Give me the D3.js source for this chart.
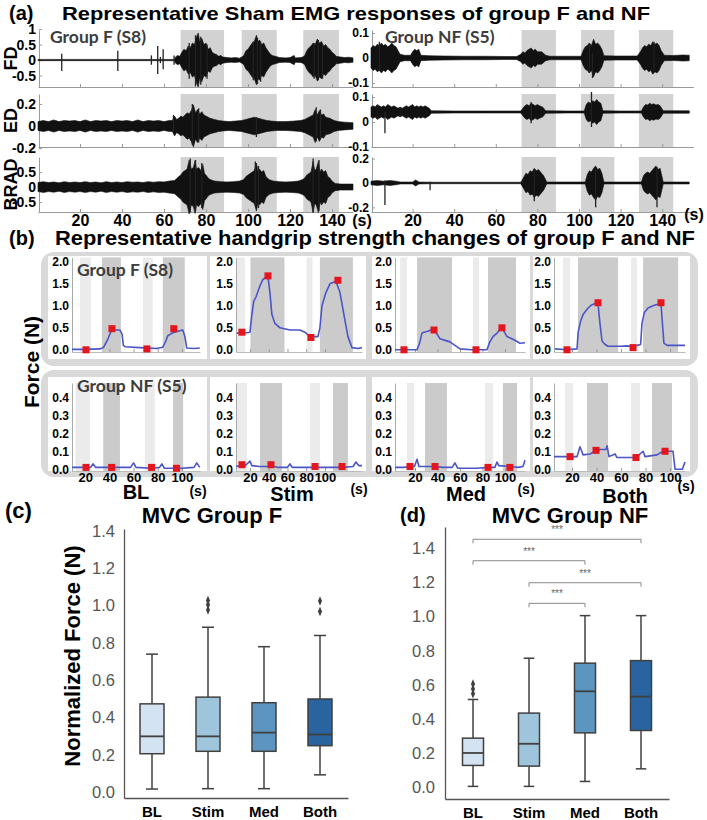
<!DOCTYPE html>
<html><head><meta charset="utf-8">
<script src="https://cdn.jsdelivr.net/npm/d3@7"></script>
<style>body{margin:0;background:#fff}svg{display:block}</style>
</head><body>
<svg id="c" width="707" height="820"></svg>
<script>
// ======================= DATA =======================
// ---- Panel (a): EMG amplitude envelopes [time s, half-amplitude] ----
const emgTimeTicks = [20,40,60,80,100,120,140];
const emgMuscles = ["FD","ED","BRAD"];
const emgGroupLabels = ["Group F (S8)","Group NF (S5)"];
const emgBandsF = [[67.9,88.6],[97,113.7],[126.3,143.3]];
const emgBandsNF = [[72.4,88.9],[101,117],[128.8,145.3]];
const emgTicksF = [[1,0.5,0,-0.5],[0.2,0,-0.2],[0.5,0,-0.5]];
const emgTicksNF = [[0.1,0,-0.1],[0.1,0,-0.1],[0.2,0,-0.2]];
const emgCentersNF = [0,0.04,0];

const emgF_FD = [[0,0.02],[65,0.02],[65.5,0.1],[66.5,0.15],[67.5,0.12],[68.5,0.25],[69.5,0.35],[70.5,0.3],[71.5,0.45],[72.5,0.4],[73.5,0.55],[74.5,0.5],[75.5,0.75],[76.3,0.87],[77,0.6],[78,0.7],[79,0.5],[80,0.55],[81,0.35],[82,0.4],[83,0.25],[84,0.2],[85,0.18],[86,0.12],[87,0.15],[88,0.1],[90,0.08],[92,0.07],[94,0.08],[96,0.06],[97,0.1],[98,0.15],[99,0.3],[100,0.35],[101,0.45],[102,0.55],[103,0.6],[104,0.8],[104.8,0.6],[105.5,0.65],[106.5,0.5],[107.5,0.55],[108.5,0.4],[109.5,0.3],[110.5,0.2],[111.5,0.15],[113,0.12],[115,0.08],[118,0.07],[120,0.08],[122,0.15],[122.5,0.07],[125,0.08],[126,0.1],[127,0.15],[128,0.3],[129,0.4],[130,0.45],[131,0.55],[132,0.5],[133,0.68],[134,0.55],[135,0.6],[136,0.45],[137,0.5],[138,0.4],[139,0.35],[140,0.25],[141,0.2],[142,0.12],[144,0.1],[146,0.08],[148,0.09],[150,0.07]];
const emgF_FD_spikes = [[11.3,-0.35,0.2],[38,-0.35,0.3],[54,-0.15,0.15],[57,-0.45,0.45],[58.3,-0.1,0.1],[59.6,-0.3,0.35],[64.8,-0.15,0.15],[72,-0.6,0.55],[75,-0.85,0.8],[77.5,-0.8,0.75],[80.5,-0.6,0.5],[102.5,-0.65,0.6],[104.5,-0.78,0.72],[106,-0.7,0.6],[131.5,-0.6,0.55],[133.5,-0.65,0.65],[135.5,-0.6,0.5]];
const emgF_ED = [[0,0.04],[2.5,0.05],[5,0.04],[7.5,0.055],[10,0.04],[12.5,0.05],[15,0.045],[17.5,0.05],[20,0.04],[22.5,0.055],[25,0.04],[27.5,0.05],[30,0.045],[32.5,0.05],[35,0.04],[37.5,0.05],[40,0.045],[42.5,0.05],[45,0.04],[47.5,0.055],[50,0.04],[52.5,0.05],[55,0.045],[57.5,0.05],[60,0.04],[62.5,0.05],[64,0.05],[65,0.09],[66,0.06],[67,0.07],[68,0.09],[69,0.08],[70,0.1],[71,0.12],[72,0.11],[73,0.14],[74,0.19],[75,0.12],[76,0.15],[77,0.11],[78,0.13],[79,0.1],[80,0.09],[81,0.08],[82,0.07],[84,0.06],[86,0.05],[88,0.045],[91,0.04],[94,0.045],[97,0.05],[99,0.06],[101,0.07],[103,0.08],[105,0.07],[107,0.06],[109,0.05],[111,0.045],[114,0.04],[118,0.04],[122,0.045],[125,0.05],[127,0.06],[129,0.08],[131,0.1],[132,0.15],[133,0.1],[134,0.14],[135,0.1],[136,0.11],[137,0.08],[139,0.07],[141,0.05],[143,0.04],[146,0.035],[150,0.03]];
const emgF_ED_spikes = [[64.5,-0.05,0.1],[73.5,-0.17,0.2],[76.5,-0.15,0.16],[104,-0.1,0.08],[132.5,-0.14,0.17],[134.5,-0.12,0.15]];
const emgF_BRAD = [[0,0.15],[2.5,0.18],[5,0.15],[7.5,0.17],[10,0.14],[12.5,0.18],[15,0.15],[17.5,0.17],[20,0.15],[22.5,0.18],[25,0.15],[27.5,0.17],[30,0.14],[32.5,0.18],[35,0.15],[37.5,0.17],[40,0.15],[42.5,0.18],[45,0.16],[47.5,0.17],[50,0.15],[52.5,0.18],[55,0.16],[57.5,0.18],[60,0.17],[62.5,0.2],[65,0.22],[66,0.28],[67,0.35],[68,0.4],[69,0.5],[70,0.55],[71,0.6],[72,0.9],[73,0.6],[74,0.65],[74.8,0.88],[75.5,0.6],[76.5,0.65],[77.5,0.55],[78.5,0.75],[79.3,0.45],[80,0.4],[81,0.3],[82,0.25],[84,0.2],[87,0.18],[90,0.17],[93,0.18],[96,0.2],[98,0.25],[99,0.35],[100,0.4],[101,0.45],[102,0.5],[103,0.55],[104,0.8],[104.8,0.5],[105.5,0.6],[106.5,0.5],[107.5,0.55],[108.5,0.35],[110,0.25],[112,0.2],[115,0.18],[118,0.17],[121,0.18],[124,0.2],[126,0.25],[127,0.3],[128,0.4],[129,0.45],[130,0.5],[131,0.85],[131.8,0.55],[132.5,0.6],[133.5,0.85],[134.3,0.5],[135,0.6],[136,0.5],[137,0.55],[138,0.35],[139,0.3],[140,0.2],[141.5,0.12],[144,0.1],[147,0.1],[150,0.1]];
const emgF_BRAD_spikes = [[72.5,-0.85,0.95],[75,-0.8,0.9],[78,-0.7,0.8],[103.5,-0.6,0.85],[105,-0.7,0.7],[131,-0.85,0.95],[133.8,-0.8,0.9]];

const emgNF_FD = [[0,0.04],[1,0.05],[2,0.045],[3,0.055],[4,0.05],[5,0.06],[6,0.05],[7,0.055],[8,0.045],[9,0.05],[10,0.06],[11,0.05],[12,0.045],[13,0.03],[14,0.015],[16,0.011],[19,0.011],[20,0.025],[21,0.035],[22,0.03],[23,0.035],[24,0.011],[28,0.009],[35,0.008],[45,0.007],[55,0.007],[65,0.006],[70,0.006],[72,0.015],[73,0.025],[74,0.02],[75,0.03],[76,0.035],[77,0.04],[78,0.03],[79,0.035],[80,0.025],[82,0.025],[84,0.011],[86,0.007],[95,0.007],[101,0.007],[102,0.03],[103,0.045],[104,0.05],[105,0.06],[106,0.05],[107,0.075],[108,0.055],[109,0.06],[110,0.05],[111,0.035],[112,0.009],[118,0.008],[128,0.008],[129.5,0.025],[130.5,0.04],[131.5,0.05],[132.5,0.045],[133.5,0.055],[134.5,0.05],[135.5,0.065],[136.5,0.055],[137.5,0.06],[138.5,0.05],[139.5,0.03],[141,0.011],[145,0.01],[150,0.012],[153,0.011]];
const emgNF_FD_spikes = [[106.5,-0.08,0.02],[105,-0.06,0.06],[136,-0.05,0.065],[4,-0.05,0.065]];
const emgNF_ED = [[0,0.02],[1,0.025],[2,0.02],[3,0.03],[4,0.025],[5,0.02],[6,0.025],[7,0.02],[8,0.03],[9,0.025],[10,0.02],[11,0.025],[12,0.02],[13,0.015],[14,0.02],[15,0.015],[16,0.02],[17,0.025],[18,0.02],[19,0.025],[20,0.03],[21,0.02],[22,0.025],[23,0.02],[24,0.025],[25,0.02],[26,0.025],[27,0.02],[28,0.015],[29,0.005],[40,0.004],[55,0.004],[72,0.004],[73,0.015],[74,0.025],[75,0.03],[76,0.025],[77,0.035],[78,0.03],[79,0.025],[80,0.03],[81,0.025],[82.5,0.02],[84,0.005],[95,0.004],[102.5,0.004],[103.5,0.03],[104.5,0.04],[105.5,0.035],[106.5,0.045],[107.5,0.04],[108.5,0.05],[109.5,0.04],[110.5,0.035],[111.5,0.005],[120,0.004],[130,0.004],[131,0.02],[132,0.03],[133,0.028],[134,0.035],[135,0.03],[136,0.033],[137,0.028],[138,0.03],[139,0.025],[140.5,0.005],[153,0.005]];
const emgNF_ED_spikes = [[6.7,-0.045,0.04],[106,-0.02,0.12],[77,-0.005,0.08]];
const emgNF_BRAD = [[0,0.015],[3,0.02],[6,0.015],[9,0.02],[12,0.015],[14,0.008],[20,0.008],[21.5,0.025],[23,0.008],[30,0.006],[50,0.006],[72,0.006],[73.5,0.05],[74.5,0.08],[75.5,0.07],[76.5,0.1],[77.5,0.09],[78.5,0.12],[79.5,0.1],[80.5,0.11],[81.5,0.09],[83,0.06],[84.5,0.008],[103,0.008],[104,0.07],[105,0.1],[106,0.09],[107,0.12],[108,0.14],[109,0.11],[110,0.12],[111,0.08],[112,0.008],[130,0.008],[131,0.06],[132,0.08],[133,0.09],[134,0.08],[135,0.1],[136,0.12],[137,0.14],[138,0.11],[139,0.12],[140.5,0.008],[153,0.008]];
const emgNF_BRAD_spikes = [[6.7,-0.18,0.02],[28.4,-0.06,0.01],[108,-0.2,0.12],[137.5,-0.2,0.13],[78.5,-0.15,0.1]];

// ---- Panel (b): handgrip force traces [time s, force N] ----
const forceConditions = ["BL","Stim","Med","Both"];
const forceGroupLabels = ["Group F (S8)","Group NF (S5)"];
const forceYTicksF = [0,0.5,1,1.5,2];
const forceYTicksNF = [0,0.1,0.2,0.3,0.4];
const forceTimeTicks = [20,40,60,80,100];
const forceTimeDomains = [[9,115],[5.1,139.5],[2.2,117.8],[5.3,112.2]];
const forceBandsF = [
  [[15.6,24.7],[33.8,49.5],[67.7,75.9],[84.2,102.4]],
  [[6.2,14.7],[20.5,56.8],[80.3,86.7],[94.6,129.8]],
  [[6.7,12.9],[21.8,52.9],[71.6,76.9],[84.9,109.8]],
  [[12.7,18.4],[24.9,57.6],[68.2,73.1],[78,106.6]]
];
const forceBandsNF = [
  [[12,23.9],[34.9,48.7],[69.3,77.6],[92.7,101]],
  [[5.1,16.8],[30.7,54.2],[84,94.7],[108.5,124.5]],
  [[12.9,19.1],[28.9,48.4],[82.2,89.3],[98.2,110.7]],
  [[14.3,20.8],[32.2,49.4],[68.2,75.5],[85.3,101.6]]
];
const forceF_BL = [[9,0.01],[20,0.01],[32,0.02],[35,0.05],[38.8,0.25],[41,0.4],[43,0.45],[48.7,0.45],[50.5,0.35],[51.5,0.1],[53,0.07],[65,0.05],[79,0.03],[84.2,0.06],[86.7,0.2],[88.3,0.32],[92,0.38],[96.6,0.42],[100.7,0.45],[102.5,0.3],[104,0.04],[110,0.03],[114.8,0.04]];
const forceF_Stim = [[6.1,0.38],[14.6,0.38],[20,0.4],[22,0.8],[24,1.1],[26.4,1.2],[30.6,1.45],[33.8,1.6],[37,1.65],[39.2,1.66],[41.3,1.3],[43.4,0.8],[46.6,0.6],[52,0.5],[62.6,0.45],[73.3,0.45],[78.6,0.4],[84,0.3],[92.5,0.3],[94.6,0.5],[96.8,1.0],[101,1.3],[105.3,1.5],[111.7,1.56],[116,1.3],[120.2,0.8],[124.5,0.3],[128.8,0.05],[135.2,0.03],[139.4,0.05]];
const forceF_Med = [[2.2,0.0],[21.8,0.0],[24,0.15],[26.2,0.38],[28,0.4],[31.5,0.42],[34,0.45],[36.9,0.5],[39,0.38],[42.2,0.25],[46,0.22],[51.1,0.18],[55.5,0.1],[60,0.02],[70,0.0],[84,0.0],[86,0.15],[89.3,0.3],[93,0.38],[97.3,0.52],[99.5,0.4],[101.8,0.3],[106.2,0.25],[110,0.2],[113.3,0.15],[117.8,0.16]];
const forceF_Both = [[6.1,0.02],[15.9,0.0],[24.1,0.02],[25,0.4],[27,0.65],[29,0.8],[33.1,0.95],[36,1.02],[38.8,1.05],[41.2,1.05],[42.8,0.6],[44.5,0.2],[47,0.12],[49.4,0.08],[60,0.08],[65,0.09],[67.3,0.08],[73,0.1],[76,0.12],[77.1,0.6],[79,0.85],[82,0.95],[87.7,1.02],[92.6,1.05],[93.5,0.7],[95,0.15],[97.5,0.1],[104,0.1],[112.2,0.1]];
const forceF_Peaks = [
  [[20.6,0.0],[42.1,0.48],[71,0.02],[93.3,0.48]],
  [[11.4,0.40],[39.2,1.68],[85,0.28],[113.8,1.58]],
  [[10.2,0.0],[36.9,0.45],[74.2,0.0],[97.3,0.5]],
  [[15.9,0.0],[41.2,1.07],[69.8,0.05],[92.6,1.07]]
];
const forceNF_BL = [[9,0.01],[20,0.01],[24.5,0.01],[26.4,0.03],[28.5,0.01],[40,0.01],[50,0.01],[57.5,0.01],[60,0.035],[62,0.01],[75,0.005],[81.5,0.01],[83.4,0.03],[85.5,0.005],[100,0.005],[110,0.01],[112.3,0.035],[114.8,0.01]];
const forceNF_Stim = [[5.1,0.015],[9,0.02],[11.5,0.025],[14,0.02],[16,0.025],[20,0.045],[22,0.02],[30,0.015],[40,0.015],[42.4,0.02],[50,0.01],[60,0.01],[62.7,0.03],[65,0.01],[80,0.01],[89.4,0.01],[100,0.01],[110,0.01],[118.2,0.01],[130,0.015],[133,0.04],[136,0.02],[139.5,0.02]];
const forceNF_Med = [[2.2,0.01],[10,0.01],[15.5,0.015],[19.5,0.015],[21.8,0.055],[23.5,0.015],[37.8,0.015],[45,0.01],[53,0.01],[55.5,0.035],[58,0.005],[75,0.005],[84.9,0.01],[91,0.01],[92.9,0.04],[94.5,0.02],[104.4,0.015],[112,0.01],[116,0.015],[117.8,0.05]];
const forceNF_Both = [[5.3,0.07],[7.7,0.07],[18.4,0.07],[24.1,0.07],[26.5,0.125],[29,0.08],[34.7,0.085],[38.8,0.1],[42.9,0.11],[47.7,0.11],[48.6,0.13],[50.2,0.07],[55.1,0.085],[56.7,0.065],[67.3,0.065],[72.2,0.065],[78,0.1],[79.6,0.07],[89.4,0.08],[94.3,0.1],[102.4,0.1],[104.1,0.0],[110,0.0],[112.2,0.04]];
const forceNF_Peaks = [
  [[20.6,0.01],[41.8,0.01],[74.9,0.01],[95.5,0.005]],
  [[11.5,0.025],[42.4,0.025],[89.4,0.015],[118.2,0.015]],
  [[15.5,0.015],[37.8,0.015],[84.9,0.01],[104.4,0.01]],
  [[18.4,0.07],[39.6,0.105],[72.2,0.065],[95.9,0.1]]
];

// ---- Panels (c),(d): MVC box plot statistics ----
const mvcCategories = ["BL","Stim","Med","Both"];
const mvcYTicks = [0,0.2,0.4,0.6,0.8,1.0,1.2,1.4];
const mvcF_low  = [0.018,0.02,0.02,0.094];
const mvcF_q1   = [0.207,0.22,0.22,0.25];
const mvcF_med  = [0.30,0.30,0.32,0.31];
const mvcF_q3   = [0.474,0.51,0.48,0.50];
const mvcF_high = [0.74,0.884,0.78,0.84];
const mvcF_outliers = [["Stim",0.976],["Stim",1.004],["Stim",1.027],["Both",0.968],["Both",1.025]];
const mvcNF_low  = [0.004,0.004,0.033,0.107];
const mvcNF_q1   = [0.127,0.123,0.318,0.332];
const mvcNF_med  = [0.20,0.254,0.562,0.531];
const mvcNF_q3   = [0.287,0.434,0.727,0.742];
const mvcNF_high = [0.514,0.756,1.006,1.006];
const mvcNF_outliers = [["BL",0.547],["BL",0.576],["BL",0.605]];
const mvcNF_sig = [["BL","Both",1.454],["BL","Med",1.328],["Stim","Both",1.199],["Stim","Med",1.078]];
const sigLabel = "***";

// ======================= DRAWING =======================
const svg = d3.select("#c");
const AR = "'Liberation Sans', Arial, Helvetica, sans-serif";
const CAL = "Lato, 'Open Sans', sans-serif";
function label(x, y, s, o = {}) {
  const t = svg.append("text").attr("x", x).attr("y", y).text(s)
    .attr("font-family", o.ff || AR).attr("font-size", o.fs || 14)
    .attr("font-weight", o.fw || "bold").attr("fill", o.fill || "#000")
    .attr("text-anchor", o.anchor || "start");
  if (o.rot) t.attr("transform", `rotate(${o.rot},${x},${y})`);
  if (o.len) t.attr("textLength", o.len).attr("lengthAdjust", "spacingAndGlyphs");
  return t;
}

// ---------- Panel (a) ----------
label(9, 20, "(a)", {fs: 20});
label(62, 20, "Representative Sham EMG responses of group F and NF", {fs: 19, len: 588});
const emgRows = [{top: 30, bot: 87}, {top: 94, bot: 147}, {top: 157, bot: 212}];
const emgSides = [
  {x: [38, 353], dom: [0, 150], bands: emgBandsF, ticks: emgTicksF, centers: [0,0,0],
   yd: [[-0.87, 0.97], [-0.19, 0.29], [-0.83, 1.0]],
   env: [emgF_FD, emgF_ED, emgF_BRAD], spk: [emgF_FD_spikes, emgF_ED_spikes, emgF_BRAD_spikes],
   tfs: 14, group: emgGroupLabels[0], gx: 50, sx: 362, sy: 226},
  {x: [371, 693.4], dom: [0, 155], bands: emgBandsNF, ticks: emgTicksNF, centers: emgCentersNF,
   yd: [[-0.116, 0.112], [-0.1, 0.112], [-0.238, 0.213]],
   env: [emgNF_FD, emgNF_ED, emgNF_BRAD], spk: [emgNF_FD_spikes, emgNF_ED_spikes, emgNF_BRAD_spikes],
   tfs: 12, group: emgGroupLabels[1], gx: 385, sx: 694, sy: 220}
];
emgSides.forEach((S, si) => {
  const xs = d3.scaleLinear().domain(S.dom).range(S.x);
  emgRows.forEach((R, ri) => {
    const ys = d3.scaleLinear().domain(S.yd[ri]).range([R.bot, R.top]);
    const g = svg.append("g");
    g.selectAll("rect.band").data(S.bands).join("rect")
      .attr("x", d => xs(d[0])).attr("width", d => xs(d[1]) - xs(d[0]))
      .attr("y", R.top).attr("height", R.bot - R.top).attr("fill", "#d2d2d2");
    const ax = g.append("g").attr("transform", `translate(${S.x[0] + 1},0)`)
      .call(d3.axisLeft(ys).tickValues(S.ticks[ri]).tickFormat(d => String(d)).tickSizeInner(-3).tickSizeOuter(0).tickPadding(3));
    ax.select(".domain").attr("stroke", "#9a9a9a");
    ax.selectAll(".tick line").attr("stroke", "#9a9a9a");
    ax.selectAll("text").attr("font-family", AR).attr("font-weight", "bold").attr("font-size", S.tfs).attr("fill", "#000");
    const bx = g.append("g").attr("transform", `translate(0,${R.bot})`)
      .call(d3.axisBottom(xs).tickValues(emgTimeTicks).tickSizeInner(-3).tickSizeOuter(0).tickPadding(3)
        .tickFormat(ri === 2 ? d => d : () => ""));
    bx.select(".domain").attr("stroke", "#9a9a9a");
    bx.selectAll(".tick line").attr("stroke", "#9a9a9a");
    bx.selectAll("text").attr("font-family", AR).attr("font-weight", "bold").attr("font-size", 16).attr("fill", "#000");
    const c = S.centers[ri];
    const area = d3.area().x(d => xs(d[0])).y0(d => ys(c - d[1])).y1(d => ys(c + d[1]));
    g.append("path").datum(S.env[ri]).attr("d", area).attr("fill", "#111").attr("stroke", "#111").attr("stroke-width", 0.6);
    g.selectAll("line.spk").data(S.spk[ri]).join("line")
      .attr("x1", d => xs(d[0])).attr("x2", d => xs(d[0]))
      .attr("y1", d => ys(d[1])).attr("y2", d => ys(d[2]))
      .attr("stroke", "#222").attr("stroke-width", 1.3);
    if (si === 0) label(17, (R.top + R.bot) / 2, emgMuscles[ri], {fs: 18, rot: -90, anchor: "middle"});
  });
  label(S.gx, 43, S.group, {ff: CAL, fs: 17.5, fill: "#3c3c3c"});
  label(S.sx, S.sy, "(s)", {fs: 16, anchor: "middle"});
});

// ---------- Panel (b) ----------
label(9, 245, "(b)", {fs: 20});
label(55, 245, "Representative handgrip strength changes of group F and NF", {fs: 20, len: 640});
svg.append("rect").attr("x", 41).attr("y", 252).attr("width", 657).attr("height", 114).attr("rx", 13).attr("fill", "#d9d9d9");
svg.append("rect").attr("x", 41).attr("y", 370).attr("width", 657).attr("height", 107).attr("rx", 13).attr("fill", "#d9d9d9");
label(39, 362, "Force (N)", {fs: 21, rot: -90, anchor: "middle"});
const fCols = [{box: [48, 207], x: [72, 200]}, {box: [210, 366], x: [236, 362]}, {box: [372, 530], x: [395, 525]}, {box: [533, 690], x: [554, 685]}];
const fRows = [
  {box: [256, 359], yr: [352, 257.4], yd: [-0.05, 2.1], ticks: forceYTicksF, bands: forceBandsF,
   traces: [forceF_BL, forceF_Stim, forceF_Med, forceF_Both], peaks: forceF_Peaks, group: forceGroupLabels[0], gy: 276},
  {box: [377, 471], yr: [471, 383], yd: [-0.01, 0.48], ticks: forceYTicksNF, bands: forceBandsNF,
   traces: [forceNF_BL, forceNF_Stim, forceNF_Med, forceNF_Both], peaks: forceNF_Peaks, group: forceGroupLabels[1], gy: 392}
];
fRows.forEach((R, ri) => {
  fCols.forEach((C, ci) => {
    const xs = d3.scaleLinear().domain(forceTimeDomains[ci]).range(C.x);
    const ys = d3.scaleLinear().domain(R.yd).range(R.yr);
    const g = svg.append("g");
    g.append("rect").attr("x", C.box[0]).attr("y", R.box[0]).attr("width", C.box[1] - C.box[0]).attr("height", R.box[1] - R.box[0]).attr("fill", "#fff");
    g.selectAll("rect.band").data(R.bands[ci]).join("rect")
      .attr("x", d => xs(d[0])).attr("width", d => xs(d[1]) - xs(d[0]))
      .attr("y", R.yr[1]).attr("height", R.yr[0] - R.yr[1])
      .attr("fill", (d, i) => i % 2 === 0 ? "#ebebeb" : "#cbcbcb");
    const ax = g.append("g").attr("transform", `translate(${C.x[0]},0)`)
      .call(d3.axisLeft(ys).tickValues(R.ticks).tickFormat(d3.format(".1f")).tickSize(0).tickPadding(3));
    ax.select(".domain").attr("stroke", "#aaa");
    ax.selectAll("text").attr("font-family", AR).attr("font-weight", "bold").attr("font-size", 12).attr("fill", "#000");
    const bx = g.append("g").attr("transform", `translate(0,${R.yr[0]})`)
      .call(d3.axisBottom(xs).tickValues(forceTimeTicks).tickSizeInner(-3).tickSizeOuter(0).tickPadding(2)
        .tickFormat(ri === 1 ? d => d : () => ""));
    bx.select(".domain").attr("stroke", "#bbb");
    bx.selectAll(".tick line").attr("stroke", "#999");
    bx.selectAll("text").attr("font-family", AR).attr("font-weight", "bold").attr("font-size", 13).attr("fill", "#000");
    const line = d3.line().x(d => xs(d[0])).y(d => ys(d[1]));
    g.append("path").datum(R.traces[ci]).attr("d", line).attr("fill", "none").attr("stroke", "#4a55c8").attr("stroke-width", 1.6).attr("stroke-linejoin", "round");
    g.selectAll("rect.pk").data(R.peaks[ci]).join("rect")
      .attr("x", d => xs(d[0]) - 3.5).attr("y", d => ys(d[1]) - 3.5).attr("width", 7).attr("height", 7).attr("fill", "#e3161d");
  });
  label(77, R.gy, R.group, {ff: CAL, fs: 17.5, fill: "#3c3c3c"});
});
const condPos = [[136, 499], [292, 501], [466, 501], [625, 503]];
const secPos = [[198, 496], [359, 494], [526, 494], [686, 491]];
forceConditions.forEach((c, i) => {
  label(condPos[i][0], condPos[i][1], c, {fs: 20, anchor: "middle"});
  label(secPos[i][0], secPos[i][1], "(s)", {fs: 14, anchor: "middle"});
});

// ---------- Panels (c),(d) ----------
const boxColors = ["#d4e3f1", "#9ec5dc", "#5b95c0", "#2964a0"];
function boxPanel(P) {
  const x = d3.scaleBand().domain(mvcCategories).range(P.xr).padding(0);
  const cx = c => x(c) + x.bandwidth() / 2;
  const y = d3.scaleLinear().domain(P.yd).range(P.yr);
  const g = svg.append("g");
  const ay = g.append("g").attr("transform", `translate(${P.xr[0]},0)`)
    .call(d3.axisLeft(y).tickValues(mvcYTicks).tickFormat(d3.format(".1f")).tickSize(0).tickPadding(P.pad));
  ay.select(".domain").attr("stroke", "#555").attr("stroke-width", 1.3);
  ay.selectAll("text").attr("font-family", AR).attr("font-size", 16.5).attr("fill", "#555");
  const axb = g.append("g").attr("transform", `translate(0,${P.yr[0]})`)
    .call(d3.axisBottom(x).tickSize(0).tickPadding(8));
  axb.select(".domain").attr("stroke", "#555").attr("stroke-width", 1.3);
  axb.selectAll("text").attr("font-family", AR).attr("font-weight", "bold").attr("font-size", 15).attr("fill", "#000");
  const w = P.bw;
  mvcCategories.forEach((c, i) => {
    const xc = cx(c);
    const st = "#404040";
    g.append("line").attr("x1", xc).attr("x2", xc).attr("y1", y(P.q1[i])).attr("y2", y(P.low[i])).attr("stroke", st).attr("stroke-width", 1.5);
    g.append("line").attr("x1", xc).attr("x2", xc).attr("y1", y(P.q3[i])).attr("y2", y(P.high[i])).attr("stroke", st).attr("stroke-width", 1.5);
    g.append("line").attr("x1", xc - w / 4).attr("x2", xc + w / 4).attr("y1", y(P.low[i])).attr("y2", y(P.low[i])).attr("stroke", st).attr("stroke-width", 1.5);
    g.append("line").attr("x1", xc - w / 4).attr("x2", xc + w / 4).attr("y1", y(P.high[i])).attr("y2", y(P.high[i])).attr("stroke", st).attr("stroke-width", 1.5);
    g.append("rect").attr("x", xc - w / 2).attr("width", w).attr("y", y(P.q3[i])).attr("height", y(P.q1[i]) - y(P.q3[i]))
      .attr("fill", boxColors[i]).attr("stroke", st).attr("stroke-width", 1.5);
    g.append("line").attr("x1", xc - w / 2).attr("x2", xc + w / 2).attr("y1", y(P.med[i])).attr("y2", y(P.med[i])).attr("stroke", st).attr("stroke-width", 1.8);
  });
  g.selectAll("path.out").data(P.out).join("path")
    .attr("d", d3.symbol(d3.symbolDiamond, 26))
    .attr("transform", d => `translate(${cx(d[0])},${y(d[1])}) scale(0.75,1)`)
    .attr("fill", "#404040");
  (P.sig || []).forEach(s => {
    const x1 = cx(s[0]), x2 = cx(s[1]), yy = y(s[2]);
    g.append("path").attr("d", `M${x1},${yy + 4}V${yy}H${x2}V${yy + 4}`).attr("fill", "none").attr("stroke", "#8a8a8a").attr("stroke-width", 1);
    g.append("text").attr("x", (x1 + x2) / 2).attr("y", yy - 6).attr("text-anchor", "middle").text(sigLabel)
      .attr("font-family", AR).attr("font-size", 10).attr("fill", "#666");
  });
}
boxPanel({xr: [124, 348], yd: [-0.03, 1.41], yr: [798, 529], pad: 9, bw: 24,
  low: mvcF_low, q1: mvcF_q1, med: mvcF_med, q3: mvcF_q3, high: mvcF_high, out: mvcF_outliers});
boxPanel({xr: [445, 669], yd: [-0.07, 1.526], yr: [799, 527], pad: 10, bw: 21,
  low: mvcNF_low, q1: mvcNF_q1, med: mvcNF_med, q3: mvcNF_q3, high: mvcNF_high, out: mvcNF_outliers, sig: mvcNF_sig});
label(5, 518, "(c)", {fs: 22});
label(212, 523, "MVC Group F", {fs: 22, anchor: "middle"});
label(400, 522, "(d)", {fs: 20});
label(570, 523, "MVC Group NF", {fs: 22, anchor: "middle"});
label(80, 656, "Normalized Force (N)", {fs: 22, rot: -90, anchor: "middle"});
</script>
</body></html>
